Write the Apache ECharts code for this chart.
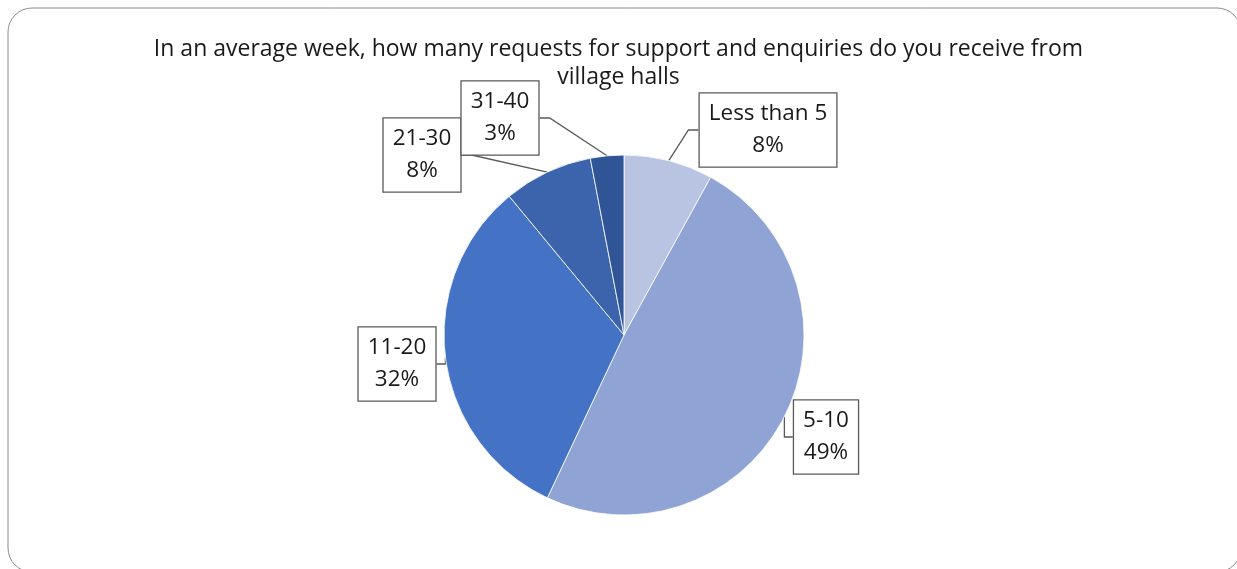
<!DOCTYPE html>
<html>
<head>
<meta charset="utf-8">
<script src="https://cdn.jsdelivr.net/npm/echarts@6/dist/echarts.min.js"></script>
<style>
  html, body { margin: 0; padding: 0; background: #fff; }
  #chart { width: 1237px; height: 569px; }
</style>
</head>
<body>
<div id="chart"></div>
<script>
// categories + shares (percent)
const categories = ['Less than 5', '5-10', '11-20', '21-30', '31-40'];
const shares = [8, 49, 32, 8, 3];
const sliceColors = ['#B9C3E2', '#8FA3D5', '#4472C4', '#3B64AD', '#2F5597'];

// where each callout box sits (centre of box)
const labelCentres = [
    [768, 130],
    [826, 437],
    [397, 364],
    [422, 155],
    [500, 118]
];

const chart = echarts.init(document.getElementById('chart'));

const option = {
    animation: false,
    title: {
        text: 'In an average week, how many requests for support and enquiries do you receive from\nvillage halls',
        left: 'center',
        top: 30,
        padding: [5, 0, 5, 11],
        textStyle: {
            fontFamily: 'Open Sans',
            fontSize: 23,
            fontWeight: 'normal',
            color: '#1a1a1a',
            lineHeight: 28
        }
    },
    graphic: [
        {
            type: 'rect',
            shape: { x: 8, y: 8, width: 1233, height: 564, r: 24 },
            style: { fill: 'none', stroke: '#8c8c8c', lineWidth: 1 },
            silent: true
        }
    ],
    series: [
        {
            type: 'pie',
            center: [624, 335],
            radius: 180,
            startAngle: 90,
            clockwise: true,
            data: categories.map((name, i) => ({
                name,
                value: shares[i],
                itemStyle: { color: sliceColors[i] }
            })),
            itemStyle: { borderColor: '#ffffff', borderWidth: 0.8 },
            label: {
                show: true,
                formatter: '{b}\n{d}%',
                fontFamily: 'Open Sans',
                fontSize: 22.5,
                lineHeight: 32,
                color: '#1a1a1a',
                backgroundColor: '#ffffff',
                borderColor: '#595959',
                borderWidth: 1.3,
                padding: [5, 9, 4, 9],
                align: 'center'
            },
            labelLine: {
                show: true,
                length: 10,
                length2: 10,
                lineStyle: { color: '#595959', width: 1.3 }
            },
            labelLayout: (params) => {
                const c = labelCentres[params.dataIndex];
                return {
                    x: c[0],
                    y: c[1],
                    align: 'center',
                    verticalAlign: 'middle'
                };
            }
        }
    ]
};

chart.setOption(option);
</script>
</body>
</html>
